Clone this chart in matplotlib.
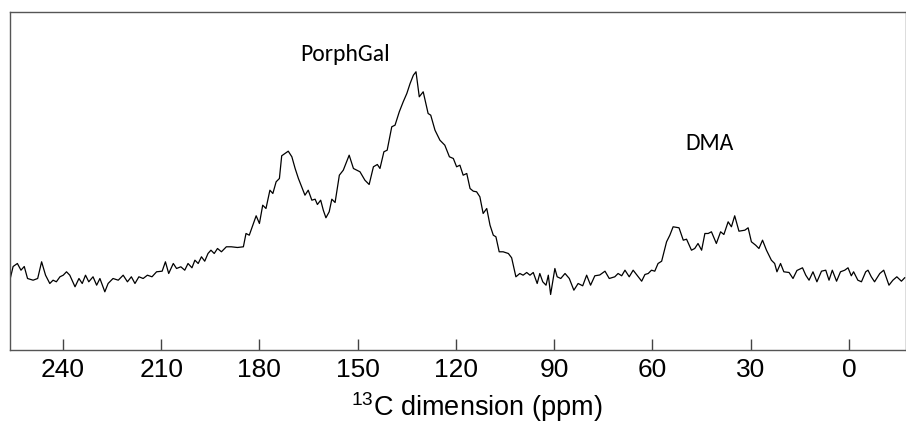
import matplotlib
matplotlib.use("Agg")
import matplotlib.pyplot as plt
from matplotlib import font_manager

# chemical shift (ppm) and intensity (a.u.)
ppm = [256.2, 255.2, 253.9, 252.8, 251.8, 250.8, 249.1, 247.7, 246.5, 245.3,
       244.0, 243.0, 242.0, 240.9, 239.9, 238.9, 237.9, 236.3, 235.1, 234.1,
       233.1, 232.1, 230.8, 229.7, 228.7, 227.2, 226.2, 224.7, 223.1, 221.6,
       220.3, 219.1, 218.0, 216.8, 215.5, 214.2, 212.8, 211.4, 209.7, 208.7,
       207.7, 206.3, 205.3, 204.0, 202.8, 201.8, 200.6, 199.7, 198.7, 197.7,
       196.7, 195.7, 194.8, 193.8, 192.8, 191.6, 190.1, 188.6, 186.7, 184.9,
       184.1, 183.1, 182.0, 181.0, 180.0, 179.0, 178.0, 176.8, 175.9, 174.9,
       173.9, 173.2, 172.2, 171.2, 170.1, 169.1, 168.1, 167.1, 166.1, 165.1,
       164.0, 163.0, 162.3, 161.3, 160.5, 159.7, 158.7, 157.9, 156.9, 155.6,
       154.4, 153.4, 152.6, 151.3, 149.3, 147.8, 146.5, 145.2, 144.0, 143.2,
       142.0, 141.0, 139.6, 138.6, 137.3, 136.1, 135.0, 134.0, 133.0, 132.2,
       131.2, 130.0, 128.5, 127.7, 126.4, 124.9, 123.4, 122.0, 120.8, 119.8,
       118.8, 117.8, 116.7, 115.7, 114.7, 113.7, 112.7, 111.7, 110.6, 109.6,
       108.6, 107.8, 106.8, 105.6, 104.0, 103.0, 101.7, 100.5, 99.5, 98.4,
       97.4, 96.4, 95.2, 94.4, 93.5, 92.5, 91.8, 91.1, 89.8, 89.1,
       88.0, 86.7, 85.4, 84.0, 82.7, 81.3, 80.1, 78.9, 77.6, 76.1,
       74.5, 73.2, 71.5, 70.5, 69.4, 68.4, 67.1, 65.9, 64.7, 63.3,
       62.3, 61.3, 60.3, 59.3, 58.3, 57.2, 55.7, 54.7, 53.7, 51.9,
       50.6, 49.6, 48.1, 47.1, 46.1, 45.0, 44.0, 43.0, 42.0, 40.5,
       39.2, 38.2, 36.9, 35.9, 34.9, 33.6, 31.8, 30.8, 29.8, 28.5,
       27.5, 26.4, 25.2, 23.7, 22.7, 22.0, 20.9, 19.9, 18.3, 17.1,
       15.9, 14.2, 13.2, 12.2, 11.0, 9.8, 8.4, 7.1, 6.1, 5.1,
       3.8, 2.6, 1.3, 0.3, -0.7, -1.4, -2.7, -3.8, -5.1, -5.8,
       -6.8, -7.8, -9.4, -10.6, -12.2, -13.4, -14.6, -16.0, -17.0]

intensity = [82.3, 96, 99, 92.3, 96, 84, 82.3, 84, 100.7, 87.3,
             79, 82.3, 80.7, 85.7, 87.3, 90.7, 87.3, 75.7, 84, 79,
             87.3, 80.7, 85.7, 77.3, 84, 70.7, 79, 84, 82.3, 87.3,
             80.7, 85.7, 79, 85.7, 84, 87.3, 85.7, 90.7, 91.3, 100.7,
             89, 99, 94, 95.7, 92.3, 99, 94.7, 102.3, 99, 105.7,
             101.3, 109, 112.3, 109, 114, 110.7, 115.7, 115.7, 115, 115.7,
             129, 127.3, 137.3, 146.7, 139, 157.3, 154, 172.3, 169, 180.7,
             184, 206.7, 209, 211.3, 205.7, 194, 184, 175.7, 167.3, 172.3,
             162.3, 163.3, 158, 162.3, 152.3, 144.7, 150.7, 163.3, 160, 187.3,
             192.3, 200.7, 207.3, 194, 190.7, 182.3, 178, 195.7, 198, 194,
             210.7, 212.3, 235.7, 237.3, 250.7, 260.7, 269, 279, 287.3, 290.7,
             265.7, 270.7, 249, 247.3, 232.3, 222.3, 217.3, 205.7, 204, 195.7,
             197.3, 187.3, 189, 174, 171.3, 170.7, 165.7, 149, 154, 137.3,
             127.3, 125.7, 110.7, 110.7, 109, 104.7, 85.7, 89, 87.3, 90,
             87.3, 90, 79, 89, 80.7, 77.3, 87.3, 68, 94, 85.7,
             84, 89, 84, 72.3, 79, 76.7, 87.3, 77.3, 86.7, 87.5,
             91.3, 84, 85.7, 89, 86.7, 92.3, 85.7, 92.3, 87.3, 81.3,
             88, 89, 92.3, 91.3, 99, 101.3, 120.7, 127.3, 135.7, 134.7,
             122.3, 123.3, 112.3, 114, 119, 112.3, 129, 129, 130.7, 119,
             130.7, 128, 140.7, 135.7, 146.7, 131.3, 132.3, 134.7, 120.7, 117.3,
             114, 122.3, 112.3, 102.3, 99, 90.7, 99, 90.7, 90, 84,
             92, 94.7, 87.3, 82.3, 90.7, 80.7, 91.3, 92.3, 82.3, 92.3,
             81.3, 90.7, 92.3, 94.7, 86.7, 90.7, 82.3, 80.7, 90.7, 92.3,
             85.7, 80.7, 89, 92.3, 77.3, 82.3, 85.7, 81.3, 84.7]

tick_values = [240, 210, 180, 150, 120, 90, 60, 30, 0]
tick_labels = ["240", "210", "180", "150", "120", "90", "60", "30", "0"]

annotations = [("PorphGal", 153.8, 302.5), ("DMA", 42.5, 213.5)]

names = {f.name for f in font_manager.fontManager.ttflist}
note_family = "DejaVu Sans"
for fam in ["Carlito", "Open Sans", "Noto Sans", "Lato"]:
    if fam in names:
        note_family = fam
        break

axis_font = "Liberation Sans"
plt.rcParams["mathtext.fontset"] = "custom"
plt.rcParams["mathtext.rm"] = axis_font
plt.rcParams["mathtext.default"] = "rm"

fig = plt.figure(figsize=(9.06, 4.27), dpi=100)
ax = fig.add_axes([0.0105, 0.178, 0.9895, 0.7923])

ax.plot(ppm, intensity, color="black", lw=0.9)

ax.set_xlim(256.3, -17.4)
ax.set_ylim(12.5, 350.8)

ax.set_xticks(tick_values)
ax.set_xticklabels(tick_labels, fontfamily=axis_font, fontsize=19)
ax.set_yticks([])
ax.tick_params(axis="x", direction="in", length=8, width=1, color="#444444", pad=5)

for s in ax.spines.values():
    s.set_color("#555555")
    s.set_linewidth(1.0)

ax.text(0.521, -0.192, r"$^{13}$C dimension (ppm)", transform=ax.transAxes,
        ha="center", va="baseline", fontfamily=axis_font, fontsize=19.5)

for txt, x, y in annotations:
    ax.text(x, y, txt, ha="center", va="baseline", fontfamily=note_family,
            fontsize=17, color="black")

fig.savefig("out.png", dpi=100)
